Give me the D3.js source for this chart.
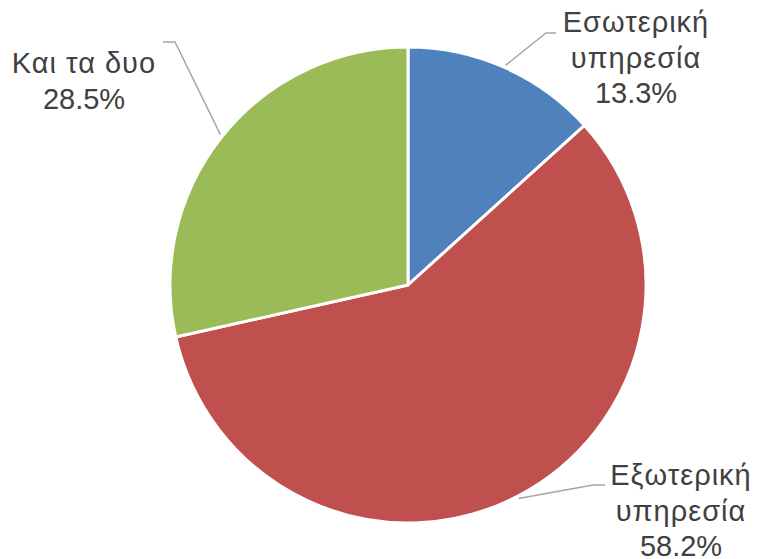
<!DOCTYPE html>
<meta charset="utf-8">
<style>
  body { margin: 0; background: #fff; }
  .lbl { font-family: "Liberation Sans", Arial, sans-serif; font-size: 29px; fill: #404040; }
  .leader { fill: none; stroke: #a6a6a6; stroke-width: 1.5; }
</style>
<body>
<script src="https://d3js.org/d3.v7.min.js"></script>
<script>

// data
var categories = ['Εσωτερική υπηρεσία', 'Εξωτερική υπηρεσία', 'Και τα δυο'];
var values = [13.3, 58.2, 28.5];
var labelLines = [['Εσωτερική', 'υπηρεσία', '13.3%'], ['Εξωτερική', 'υπηρεσία', '58.2%'], ['Και τα δυο', '28.5%']];
var colors = ['#4f81bd', '#c0504d', '#9bbb59'];

var width = 757, height = 559;
var cx = 408, cy = 285, radius = 238;

var svg = d3.select('body').append('svg').attr('width', width).attr('height', height);

var pie = d3.pie().sort(null).value(function (d) { return d; });
var arc = d3.arc().innerRadius(0).outerRadius(radius);
var arcs = pie(values);

var g = svg.append('g').attr('transform', 'translate(' + cx + ',' + cy + ')');

g.selectAll('path').data(arcs).enter().append('path')
  .attr('d', arc)
  .style('fill', function (d, i) { return colors[i]; })
  .style('stroke', '#fff')
  .style('stroke-width', 3)
  .style('stroke-linejoin', 'round');

// label placement (anchor x, first baseline) and leader elbow
var labelPos = [
  { x: 636, y: 32, elbow: [546, 33], end: [556, 33] },
  { x: 681, y: 485, elbow: [593, 485], end: [605, 485] },
  { x: 84, y: 73, elbow: [175, 42], end: [163, 42] }
];

// leader lines start just outside the slice midpoint
arcs.forEach(function (d, i) {
  var p = labelPos[i];
  var mid = (d.startAngle + d.endAngle) / 2;
  var sx = cx + Math.sin(mid) * radius * 1.01;
  var sy = cy - Math.cos(mid) * radius * 1.01;
  svg.append('path').attr('class', 'leader')
    .attr('d', d3.line()([[sx, sy], p.elbow, p.end]));
});

labelLines.forEach(function (lines, i) {
  var p = labelPos[i];
  var t = svg.append('text').attr('class', 'lbl').attr('text-anchor', 'middle');
  lines.forEach(function (s, k) {
    t.append('tspan').attr('x', p.x).attr('y', p.y + k * 35.5)
      .style('letter-spacing', /%/.test(s) ? '0px' : '1px')
      .text(s);
  });
});

</script>
</body>
</html>
